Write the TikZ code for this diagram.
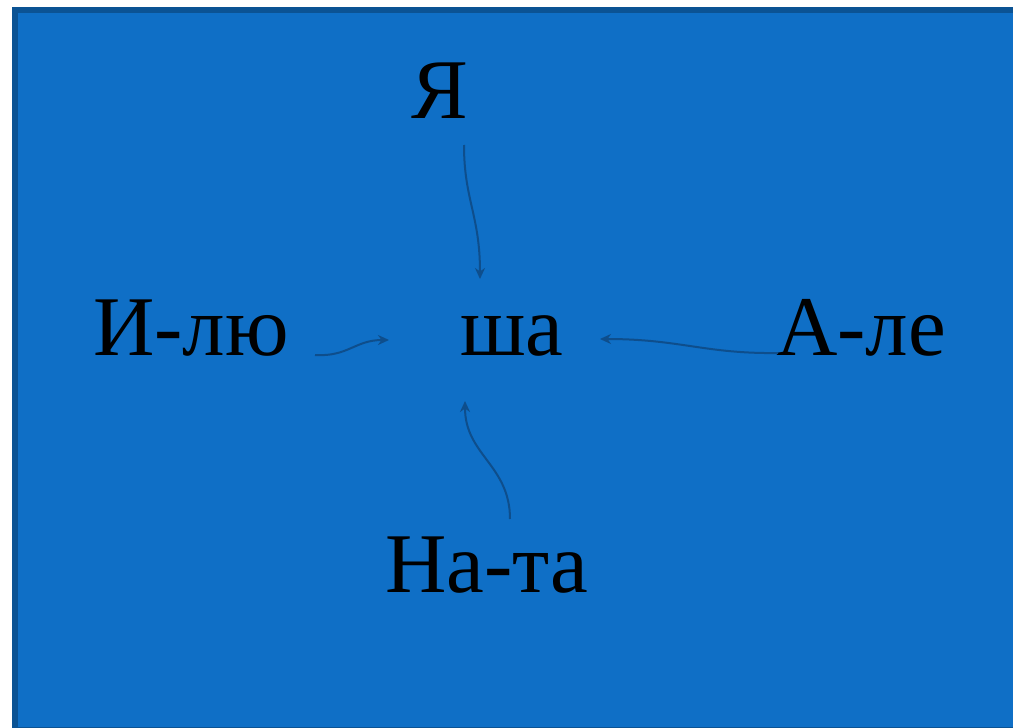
\documentclass[tikz,border=0pt]{standalone}
\usepackage{fontspec}
\setmainfont{Liberation Serif}
\usetikzlibrary{arrows.meta}
\definecolor{slide}{HTML}{0F6FC6}
\definecolor{slideedge}{HTML}{0B5394}
\definecolor{linkcol}{HTML}{0E4E8C}

\begin{document}
\begin{tikzpicture}[x=1pt,y=-1pt,->,>={Stealth[length=11pt,width=10pt,inset=3.5pt]},
    word node/.style={font=\fontsize{85}{92}\selectfont,anchor=base,inner sep=0pt},
    link/.style={draw=linkcol,line width=2pt}]

        \useasboundingbox (0,0) rectangle (1013,728);
        \fill[white] (0,0) rectangle (1013,728);
        \draw[-,fill=slide,draw=slideedge,line width=5.5pt] (14.75,9.75) rectangle (1020,729.5);

        \node[word node] (ya)   at (440,118) {Я};
        \node[word node] (ilyu) at (191,355) {И-лю};
        \node[word node] (sha)  at (512,355) {ша};
        \node[word node] (ale)  at (861,355) {А-ле};
        \node[word node] (nata) at (487,592) {На-та};

        % arrow ends
        \coordinate (ya tail)   at (464,145);
        \coordinate (ilyu tail) at (315,355);
        \coordinate (ale tail)  at (778,353);
        \coordinate (nata tail) at (510,519);
        \coordinate (sha top)   at (480,279);
        \coordinate (sha left)  at (389,340);
        \coordinate (sha right) at (600,339);
        \coordinate (sha down)  at (465,401);

          \path[link]
            (ya tail)   .. controls (464,200) and (480,215) .. (sha top);
          \path[link]
            (ilyu tail) .. controls (348,357) and (355,340) .. (sha left);
          \path[link]
            (ale tail)  .. controls (705,354) and (680,339) .. (sha right);
          \path[link]
            (nata tail) .. controls (510,465) and (465,455) .. (sha down);
        \end{tikzpicture}
\end{document}
